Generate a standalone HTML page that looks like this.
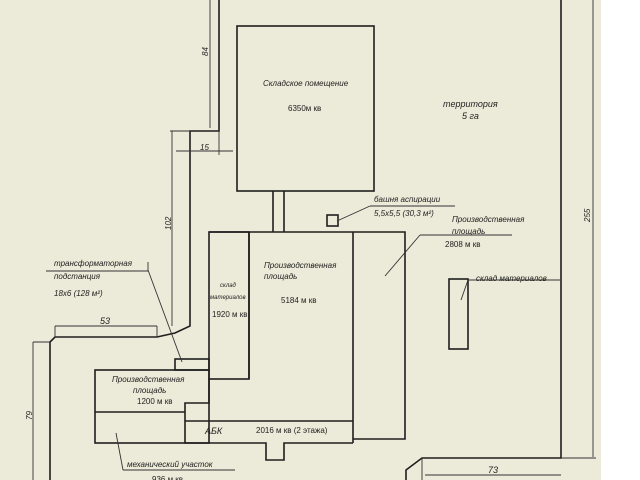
<!DOCTYPE html>
<html><head><meta charset="utf-8"><style>
html,body{margin:0;padding:0;background:#fff}
svg{display:block}
text{font-family:"Liberation Sans","DejaVu Sans",sans-serif;fill:#222}
.i{font-style:italic}
</style></head><body>
<svg width="640" height="480" viewBox="0 0 640 480" xmlns="http://www.w3.org/2000/svg">
<rect x="0" y="0" width="601" height="480" fill="#ecead8"/>
<g fill="none" stroke="#1e1e1e" stroke-width="1.6">
<!-- site boundary -->
<polyline points="219,0 219,131 190,131 190,326 175,333 157,337 55,337 50,342 50,480"/>
<polyline points="561,0 561,458 422,458 406,470 406,480"/>
<!-- warehouse -->
<rect x="237" y="26" width="137" height="165"/>
<polyline points="273,191 273,232"/><polyline points="284,191 284,232"/>
<!-- main -->
<polyline points="209,232 405,232 405,439 353,439"/>
<line x1="353" y1="232" x2="353" y2="443"/>
<rect x="209" y="232" width="40" height="147"/>
<polyline points="249,232 249,379"/>
<polyline points="185,421 353,421"/>
<polyline points="209,379 209,403 185,403 185,443 266,443 266,460 284,460 284,443 353,443"/>
<rect x="95" y="370" width="114" height="73" fill="none"/>
<line x1="95" y1="412" x2="185" y2="412"/>
<rect x="175" y="359" width="34" height="11"/>
<rect x="327" y="215" width="11" height="11"/>
<rect x="449" y="279" width="19" height="70"/>
</g>
<g fill="none" stroke="#333" stroke-width="0.9">
<line x1="210" y1="0" x2="210" y2="128"/>
<line x1="172" y1="131" x2="172" y2="326"/><line x1="170" y1="131" x2="190" y2="131"/>
<line x1="176" y1="151" x2="233" y2="151"/><line x1="219" y1="131" x2="219" y2="155"/>
<line x1="55" y1="326" x2="157" y2="326"/><line x1="55" y1="326" x2="55" y2="337"/><line x1="157" y1="326" x2="157" y2="337"/>
<line x1="33" y1="342" x2="33" y2="480"/><line x1="33" y1="342" x2="50" y2="342"/>
<line x1="593" y1="0" x2="593" y2="457"/><line x1="561" y1="458" x2="596" y2="458"/>
<line x1="425" y1="475" x2="561" y2="475"/><line x1="422" y1="458" x2="422" y2="480"/>
<!-- leaders -->
<polyline points="46,271 148,271 148,262"/><line x1="148" y1="270" x2="182" y2="362"/>
<line x1="123" y1="470" x2="235" y2="470"/><line x1="123" y1="470" x2="116" y2="433"/>
<line x1="370" y1="206" x2="455" y2="206"/><line x1="370" y1="206" x2="337" y2="221"/>
<line x1="420" y1="235" x2="512" y2="235"/><line x1="420" y1="235" x2="385" y2="276"/>
<line x1="468" y1="280" x2="560" y2="280"/><line x1="468" y1="280" x2="461" y2="300"/>
</g>
<g font-size="8" class="i">
<text x="263" y="86" class="i">Складское помещение</text>
<text x="443" y="107" class="i" font-size="9">территория</text>
<text x="462" y="119" class="i" font-size="9">5 га</text>
<text x="374" y="202" class="i">башня аспирации</text>
<text x="374" y="216" class="i">5,5х5,5 (30,3 м²)</text>
<text x="452" y="222" class="i">Производственная</text>
<text x="452" y="234" class="i">площадь</text>
<text x="264" y="268" class="i">Производственная</text>
<text x="264" y="279" class="i">площадь</text>
<text x="54" y="266" class="i">трансформаторная</text>
<text x="54" y="279" class="i">подстанция</text>
<text x="54" y="296" class="i">18х6 (128 м²)</text>
<text x="476" y="281" class="i">склад материалов</text>
<text x="112" y="382" class="i">Производственная</text>
<text x="133" y="393" class="i">площадь</text>
<text x="127" y="467" class="i">механический участок</text>
<text x="205" y="434" class="i" font-size="9">АБК</text>
<text x="220" y="287" class="i" font-size="6">склад</text>
<text x="210" y="299" class="i" font-size="6">материалов</text>
</g>
<g font-size="8">
<text x="288" y="111">6350м кв</text>
<text x="445" y="247">2808 м кв</text>
<text x="281" y="303">5184 м кв</text>
<text x="212" y="317">1920 м кв</text>
<text x="137" y="404">1200 м кв</text>
<text x="256" y="433">2016 м кв (2 этажа)</text>
<text x="152" y="482">936 м кв</text>
<text x="100" y="324" class="i" font-size="9">53</text>
<text x="200" y="150" class="i" font-size="8">15</text>
<text x="488" y="473" class="i" font-size="9">73</text>
<text transform="translate(208,56) rotate(-90)" class="i">84</text>
<text transform="translate(171,230) rotate(-90)" class="i">102</text>
<text transform="translate(32,420) rotate(-90)" class="i">79</text>
<text transform="translate(590,222) rotate(-90)" class="i">255</text>
</g>
</svg>
</body></html>
